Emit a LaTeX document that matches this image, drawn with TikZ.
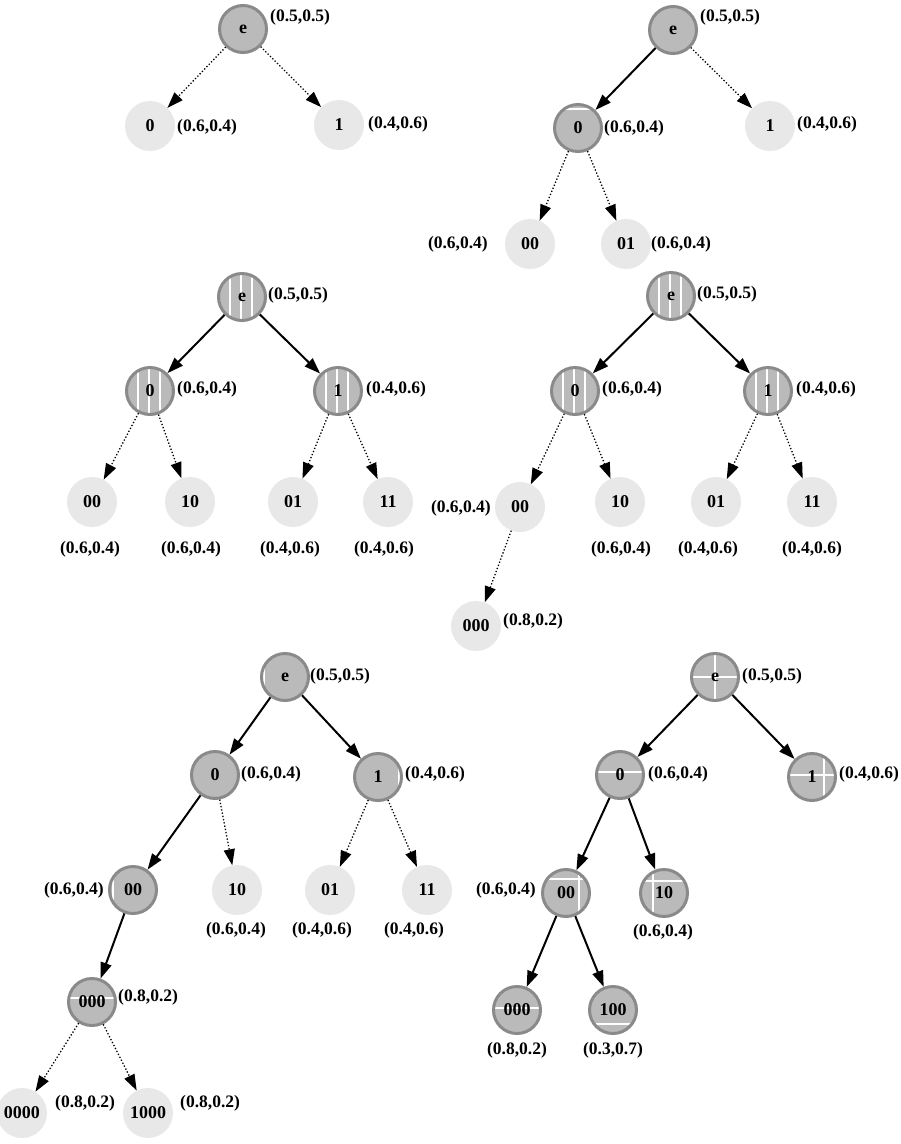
\documentclass[tikz,border=0pt]{standalone}
\usepackage{fontspec}
\setmainfont{Liberation Serif}
\usetikzlibrary{arrows.meta}
\definecolor{darkfill}{HTML}{BABABA}
\definecolor{bordergray}{HTML}{8A8A8A}
\definecolor{lightfill}{HTML}{E8E8E8}
\newcommand\vln[1]{\draw[partline] ([xshift=#1]path picture bounding box.north) -- ([xshift=#1]path picture bounding box.south);}
\newcommand\hln[1]{\draw[partline] ([yshift=#1]path picture bounding box.west) -- ([yshift=#1]path picture bounding box.east);}
\tikzset{
  partline/.style={white,line width=1.2pt},
  exp/.style={circle,minimum size=47pt,inner sep=0pt,fill=darkfill,draw=bordergray,line width=3pt,font=\fontsize{18}{20}\selectfont\bfseries},
  leaf/.style={circle,minimum size=50pt,inner sep=0pt,fill=lightfill,font=\fontsize{18}{20}\selectfont\bfseries},
  lab/.style={inner sep=0pt,font=\fontsize{17.5}{20}\selectfont\bfseries},
  sol/.style={line width=2pt,-{Triangle[length=16pt,width=11pt]}},
  dot/.style={line width=1.3pt,dotted,-{Triangle[length=16pt,width=11pt]}},
  three/.style={path picture={\vln{-12pt}\vln{-1pt}\vln{10pt}}}
}
\begin{document}
\begin{tikzpicture}[x=1pt,y=-1pt]
\useasboundingbox (0,0) rectangle (901,1144);
% ---------- Panel 1 ----------
\node[exp] (p1e) at (243,29) {e};
\node[leaf] (p1a) at (150,126) {0};
\node[leaf] (p1b) at (339,125) {1};
\draw[dot] (p1e) -- (p1a);
\draw[dot] (p1e) -- (p1b);
\node[lab,anchor=west] (p1le) at (270,17) {(0.5,0.5)};
\node[lab,anchor=west] (p1la) at (177,127) {(0.6,0.4)};
\node[lab,anchor=west] (p1lb) at (368,124) {(0.4,0.6)};
% ---------- Panel 2 ----------
\node[exp] (p2e) at (673,30) {e};
\node[exp,path picture={\hln{19pt}}] (p2a) at (578,128) {0};
\node[leaf] (p2b) at (770,126) {1};
\node[leaf] (p2aa) at (530,244) {00};
\node[leaf] (p2ab) at (626,244) {01};
\draw[sol] (p2e) -- (p2a);
\draw[dot] (p2e) -- (p2b);
\draw[dot] (p2a) -- (p2aa);
\draw[dot] (p2a) -- (p2ab);
\node[lab,anchor=west] (p2le) at (700,17) {(0.5,0.5)};
\node[lab,anchor=west] (p2la) at (604,128) {(0.6,0.4)};
\node[lab,anchor=west] (p2lb) at (797,124) {(0.4,0.6)};
\node[lab,anchor=east] (p2laa) at (488,244) {(0.6,0.4)};
\node[lab,anchor=west] (p2lab) at (651,244) {(0.6,0.4)};
% ---------- Panel 3 ----------
\node[exp,three] (p3e) at (242,297) {e};
\node[exp,three] (p3a) at (150,391) {0};
\node[exp,three] (p3b) at (338,391) {1};
\node[leaf] (p3aa) at (92,502) {00};
\node[leaf] (p3ab) at (190,502) {10};
\node[leaf] (p3ba) at (293,502) {01};
\node[leaf] (p3bb) at (388,502) {11};
\draw[sol] (p3e) -- (p3a);
\draw[sol] (p3e) -- (p3b);
\draw[dot] (p3a) -- (p3aa);
\draw[dot] (p3a) -- (p3ab);
\draw[dot] (p3b) -- (p3ba);
\draw[dot] (p3b) -- (p3bb);
\node[lab,anchor=west] (p3le) at (268,295) {(0.5,0.5)};
\node[lab,anchor=west] (p3la) at (177,389) {(0.6,0.4)};
\node[lab,anchor=west] (p3lb) at (366,389) {(0.4,0.6)};
\node[lab] (p3laa) at (90,549) {(0.6,0.4)};
\node[lab] (p3lab) at (191,549) {(0.6,0.4)};
\node[lab] (p3lba) at (290,549) {(0.4,0.6)};
\node[lab] (p3lbb) at (384,549) {(0.4,0.6)};
% ---------- Panel 4 ----------
\node[exp,three] (p4e) at (671,296) {e};
\node[exp,three] (p4a) at (575,391) {0};
\node[exp,three] (p4b) at (768,391) {1};
\node[leaf] (p4aa) at (520,507) {00};
\node[leaf] (p4ab) at (620,502) {10};
\node[leaf] (p4ba) at (716,502) {01};
\node[leaf] (p4bb) at (812,502) {11};
\node[leaf] (p4aaa) at (476,626) {000};
\draw[sol] (p4e) -- (p4a);
\draw[sol] (p4e) -- (p4b);
\draw[dot] (p4a) -- (p4aa);
\draw[dot] (p4a) -- (p4ab);
\draw[dot] (p4b) -- (p4ba);
\draw[dot] (p4b) -- (p4bb);
\draw[dot] (p4aa) -- (p4aaa);
\node[lab,anchor=west] (p4le) at (697,294) {(0.5,0.5)};
\node[lab,anchor=west] (p4la) at (602,389) {(0.6,0.4)};
\node[lab,anchor=west] (p4lb) at (796,389) {(0.4,0.6)};
\node[lab,anchor=east] (p4laa) at (491,508) {(0.6,0.4)};
\node[lab] (p4lab) at (621,549) {(0.6,0.4)};
\node[lab] (p4lba) at (708,549) {(0.4,0.6)};
\node[lab] (p4lbb) at (812,549) {(0.4,0.6)};
\node[lab,anchor=west] (p4laaa) at (503,621) {(0.8,0.2)};
% ---------- Panel 5 ----------
\node[exp,path picture={\vln{-21pt}}] (p5e) at (285,677) {e};
\node[exp] (p5a) at (215,775) {0};
\node[exp,path picture={\vln{21pt}}] (p5b) at (378,777) {1};
\node[exp,path picture={\vln{-20pt}}] (p5aa) at (133,890) {00};
\node[leaf] (p5ab) at (237,890) {10};
\node[leaf] (p5ba) at (330,890) {01};
\node[leaf] (p5bb) at (427,890) {11};
\node[exp,path picture={\hln{4pt}}] (p5aaa) at (92,1002) {000};
\node[leaf] (p5x) at (22,1113) {0000};
\node[leaf] (p5y) at (148,1113) {1000};
\draw[sol] (p5e) -- (p5a);
\draw[sol] (p5e) -- (p5b);
\draw[sol] (p5a) -- (p5aa);
\draw[dot] (p5a) -- (p5ab);
\draw[dot] (p5b) -- (p5ba);
\draw[dot] (p5b) -- (p5bb);
\draw[sol] (p5aa) -- (p5aaa);
\draw[dot] (p5aaa) -- (p5x);
\draw[dot] (p5aaa) -- (p5y);
\node[lab,anchor=west] (p5le) at (310,676) {(0.5,0.5)};
\node[lab,anchor=west] (p5la) at (241,774) {(0.6,0.4)};
\node[lab,anchor=west] (p5lb) at (405,774) {(0.4,0.6)};
\node[lab,anchor=east] (p5laa) at (104,890) {(0.6,0.4)};
\node[lab] (p5lab) at (236,930) {(0.6,0.4)};
\node[lab] (p5lba) at (322,930) {(0.4,0.6)};
\node[lab] (p5lbb) at (414,930) {(0.4,0.6)};
\node[lab,anchor=west] (p5laaa) at (118,997) {(0.8,0.2)};
\node[lab,anchor=west] (p5lx) at (55,1103) {(0.8,0.2)};
\node[lab,anchor=west] (p5ly) at (180,1103) {(0.8,0.2)};
% ---------- Panel 6 ----------
\node[exp,path picture={\vln{0pt}\hln{0pt}}] (p6e) at (715,677) {e};
\node[exp,path picture={\hln{3pt}}] (p6a) at (620,775) {0};
\node[exp,path picture={\vln{12pt}\hln{2pt}}] (p6b) at (812,777) {1};
\node[exp,path picture={\vln{13pt}\hln{14pt}}] (p6aa) at (566,893) {00};
\node[exp,path picture={\vln{-11pt}\hln{12pt}}] (p6ab) at (664,893) {10};
\node[exp,path picture={\hln{2pt}}] (p6aaa) at (517,1010) {000};
\node[exp,path picture={\hln{-14pt}}] (p6aab) at (613,1010) {100};
\draw[sol] (p6e) -- (p6a);
\draw[sol] (p6e) -- (p6b);
\draw[sol] (p6a) -- (p6aa);
\draw[sol] (p6a) -- (p6ab);
\draw[sol] (p6aa) -- (p6aaa);
\draw[sol] (p6aa) -- (p6aab);
\node[lab,anchor=west] (p6le) at (742,676) {(0.5,0.5)};
\node[lab,anchor=west] (p6la) at (648,774) {(0.6,0.4)};
\node[lab,anchor=west] (p6lb) at (839,774) {(0.4,0.6)};
\node[lab,anchor=east] (p6laa) at (536,890) {(0.6,0.4)};
\node[lab] (p6lab) at (663,932) {(0.6,0.4)};
\node[lab] (p6laaa) at (517,1050) {(0.8,0.2)};
\node[lab] (p6laab) at (613,1050) {(0.3,0.7)};
\end{tikzpicture}
\end{document}
